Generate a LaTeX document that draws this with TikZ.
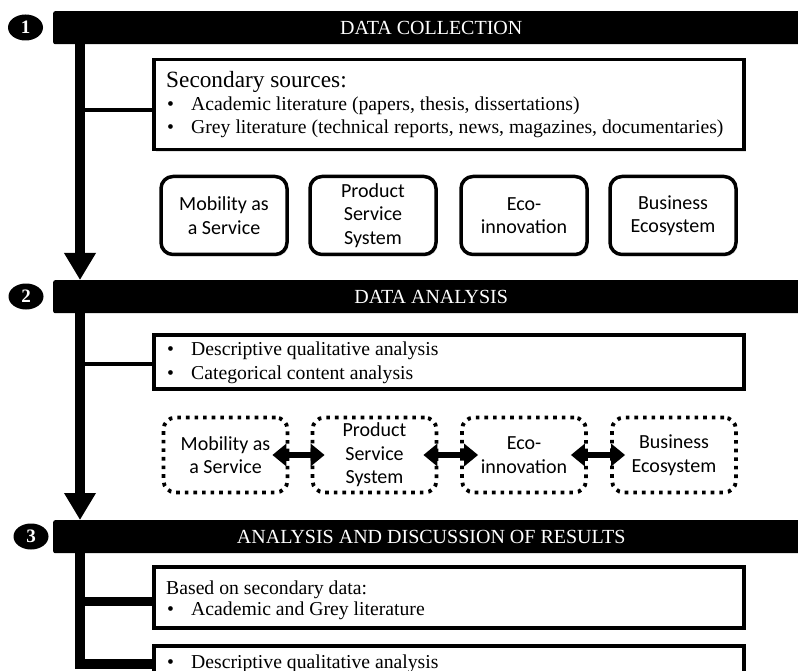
\documentclass[tikz,border=0pt]{standalone}
\usepackage{fontspec}
\setmainfont{Liberation Serif}
\newfontfamily\boxfont{Carlito}
\usetikzlibrary{arrows.meta,shadows,shapes.geometric}

\begin{document}
\begin{tikzpicture}[x=1pt,y=-1pt,
  stagebar/.style={fill=black, draw=none, rounded corners=2pt, anchor=north west,
    minimum width=756pt, minimum height=33pt, inner sep=0pt,
    text=white, font=\fontsize{20}{23}\selectfont},
  stagenum/.style={ellipse, fill=black, minimum width=35pt, minimum height=26pt,
    inner sep=0pt, text=white, font=\bfseries\fontsize{19}{20}\selectfont},
  softshadow/.style={drop shadow={opacity=0.22, shadow xshift=1.8pt, shadow yshift=-1.8pt}},
  infobox/.style={draw, line width=3.5pt, fill=white, anchor=north west, inner sep=0pt,
    minimum width=590pt, softshadow},
  line/.style={anchor=base west, inner sep=0pt, font=\fontsize{19.7}{23}\selectfont},
  topicbox/.style={draw, line width=3.5pt, rounded corners=12pt, fill=white,
    minimum width=126pt, minimum height=78pt, inner sep=0pt, align=center,
    font=\boxfont\fontsize{20}{23.5}\selectfont, softshadow},
  linkbox/.style={draw, line width=3.8pt, dash pattern=on 3.6pt off 5pt, rounded corners=12pt,
    minimum width=124pt, minimum height=75pt, inner sep=0pt, align=center,
    font=\boxfont\fontsize{20}{23.5}\selectfont},
  flow/.style={line width=10pt, -{Triangle[length=27pt,width=30pt]}},
  branch/.style={line width=4pt},
  trunk/.style={line width=10pt, line join=miter},
  biarrow/.style={line width=6.5pt, {Triangle[length=14pt,width=22pt]}-{Triangle[length=14pt,width=22pt]}}
]
\path[use as bounding box] (0,0) rectangle (798,671);
\clip (0,0) rectangle (798,671);
\newcommand{\itm}{\makebox[24pt][l]{\textbullet}}

\coordinate (spine) at (80,0);

% ---- stage headers ----
\node[stagebar] (bar1) at (53,11)  {DATA COLLECTION};
\node[stagebar] (bar2) at (53,280) {DATA ANALYSIS};
\node[stagebar] (bar3) at (53,520) {ANALYSIS AND DISCUSSION OF RESULTS};
\node[stagenum] (n1) at (25.5,27.5) {1};
\node[stagenum] (n2) at (26,296.5) {2};
\node[stagenum] (n3) at (31,536.5) {3};

% ---- stage 1 ----
\node[infobox, minimum height=90pt] (box1) at (152,58) {};
\node[line, font=\fontsize{23.3}{26}\selectfont] (s1) at (166,88) {Secondary sources:};
\node[line] (s1a) at (167,111) {\itm Academic literature (papers, thesis, dissertations)};
\node[line] (s1b) at (167,134) {\itm Grey literature (technical reports, news, magazines, documentaries)};

\node[topicbox] (maas1) at (224,215.5) {Mobility as\\a Service};
\node[topicbox] (pss1)  at (373,215.5) {Product\\Service\\System};
\node[topicbox] (eco1)  at (524,215.5) {Eco-\\innovation};
\node[topicbox] (bes1)  at (673,215.5) {Business\\Ecosystem};

\coordinate (c1) at ([yshift=-5pt]box1.west);
\draw[branch] (c1 -| spine) -- (c1);
\draw[flow] (bar1.south -| spine) -- (bar2.north -| spine);

% ---- stage 2 ----
\node[infobox, minimum height=54pt] (box2) at (152,333) {};
\node[line] (s2a) at (167,355) {\itm Descriptive qualitative analysis};
\node[line] (s2b) at (167,379) {\itm Categorical content analysis};

\node[linkbox] (maas2) at (225.5,455) {Mobility as\\a Service};
\node[linkbox] (pss2)  at (374.5,455) {Product\\Service\\System};
\node[linkbox] (eco2)  at (524,455)   {Eco-\\innovation};
\node[linkbox] (bes2)  at (674,455)   {Business\\Ecosystem};

\draw[biarrow] ([xshift=-17pt]maas2.east) -- ([xshift=14pt]pss2.west);
\draw[biarrow] ([xshift=-15pt]pss2.east) -- ([xshift=18pt]eco2.west);
\draw[biarrow] ([xshift=-17pt]eco2.east) -- ([xshift=15pt]bes2.west);

\coordinate (c2) at ([yshift=-2pt]box2.west);
\draw[branch] (c2 -| spine) -- (c2);
\draw[flow] (bar2.south -| spine) -- (bar3.north -| spine);

% ---- stage 3 ----
\node[infobox, minimum height=61pt] (box3a) at (152,565) {};
\node[line] (s3) at (166,594) {Based on secondary data:};
\node[line] (s3a) at (167,615) {\itm Academic and Grey literature};
\node[infobox, minimum height=36pt] (box3b) at (152,644) {};
\node[line] (s3b) at (167,668) {\itm Descriptive qualitative analysis};

\draw[trunk] (bar3.south -| spine) |- (box3b.west);
\coordinate (c3) at ([yshift=-4pt]box3a.west);
\draw[line width=9pt] (c3 -| spine) -- (c3);
\end{tikzpicture}
\end{document}
